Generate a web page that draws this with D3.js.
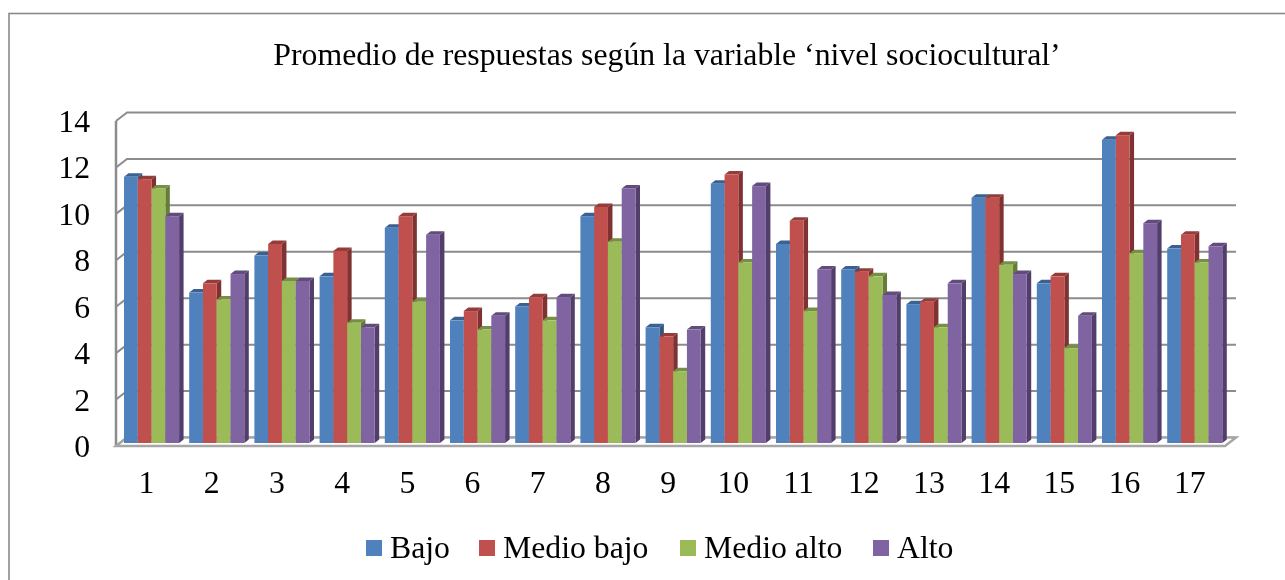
<!DOCTYPE html>
<html><head><meta charset="utf-8">
<script src="https://cdnjs.cloudflare.com/ajax/libs/d3/7.8.5/d3.min.js"></script>
<style>html,body{margin:0;padding:0;background:#fff;overflow:hidden}svg{display:block;filter:blur(0.35px)}text{font-family:"Liberation Serif",serif;fill:#000}</style>
</head><body><div id="chart"></div>
<script>
const title = "Promedio de respuestas según la variable ‘nivel sociocultural’";
const categories = ["1","2","3","4","5","6","7","8","9","10","11","12","13","14","15","16","17"];
const seriesNames = ["Bajo","Medio bajo","Medio alto","Alto"];
const bajo      = [11.5,6.5,8.1,7.2,9.3,5.3,5.9,9.8,5.0,11.2,8.6,7.5,6.0,10.6,6.9,13.1,8.4];
const medioBajo = [11.4,6.9,8.6,8.3,9.8,5.7,6.3,10.2,4.6,11.6,9.6,7.4,6.1,10.6,7.2,13.3,9.0];
const medioAlto = [11.0,6.2,7.0,5.2,6.1,4.9,5.3,8.7,3.1,7.8,5.7,7.2,5.0,7.7,4.1,8.2,7.8];
const alto      = [9.8,7.3,7.0,5.0,9.0,5.5,6.3,11.0,4.9,11.1,7.5,6.4,6.9,7.3,5.5,9.5,8.5];
const series = [bajo,medioBajo,medioAlto,alto];
const yTicks = [0,2,4,6,8,10,12,14];
const colors = ["#4f81bd","#c0504d","#9bbb59","#8064a2"];
const sideColors = ["#33557f","#7f3231","#667c3a","#523e6b"];
const topColors = ["#3a6191","#953c3a","#778f45","#614c7c"];

const W=1285,H=580,FS=31.75;
const svg=d3.select("#chart").append("svg").attr("width",W).attr("height",H);
svg.append("rect").attr("x",9).attr("y",13.5).attr("width",W+10).attr("height",H+10).attr("fill","#fff").attr("stroke","#8a8a8a").attr("stroke-width",1.6);

svg.append("text").attr("x",667).attr("y",65).attr("text-anchor","middle").attr("font-size",FS).text(title);

// 3D frame
const dx=11,dy=-8.5;
const yFront=d3.scaleLinear().domain([0,14]).range([446,121]);
const yBar=d3.scaleLinear().domain([0,14]).range([443,119]);
const xLeft=116,xRight=1225;
const gridCol="#8c8c8c";
const g=svg.append("g").attr("fill","none").attr("stroke",gridCol).attr("stroke-width",2);
g.selectAll("path.grid").data(yTicks).join("path").attr("class","grid")
  .attr("d",d=>`M${xLeft},${yFront(d)}L${xLeft+dx},${yFront(d)+dy}L${xRight+dx},${yFront(d)+dy}`);
g.append("path").attr("d",`M${xLeft},${yFront(14)}L${xLeft},${yFront(0)}`).attr("stroke-width",2.5);
svg.append("path").attr("d",`M${xLeft},${yFront(0)}L${xLeft+dx},${yFront(0)+dy}L${xRight+dx},${yFront(0)+dy}L${xRight},${yFront(0)}Z`)
  .attr("fill","#fff").attr("stroke","#a6a6a6").attr("stroke-width",2.5);

// bars
const x0=d3.scaleBand().domain(categories).range([116.5,1229.8]).paddingInner(0.155).paddingOuter(0.115);
const x1=d3.scaleBand().domain(seriesNames).range([0,x0.bandwidth()]);
const sd=4.5,st=3.5;
categories.forEach((c,i)=>{
  const gr=svg.append("g");
  seriesNames.forEach((s,j)=>{
    const v=series[j][i],x=x0(c)+x1(s),w=x1.bandwidth(),y=yBar(v),b=yBar(0);
    gr.append("path").attr("fill",sideColors[j]).attr("d",`M${x+w},${y}L${x+w+sd},${y-st}L${x+w+sd},${b-st}L${x+w},${b}Z`);
    gr.append("path").attr("fill",topColors[j]).attr("d",`M${x},${y}L${x+sd},${y-st}L${x+w+sd},${y-st}L${x+w},${y}Z`);
    gr.append("rect").attr("x",x).attr("y",y).attr("width",w).attr("height",b-y).attr("fill",colors[j]);
  });
});

// axis labels
svg.selectAll("text.yl").data(yTicks).join("text").attr("class","yl")
  .attr("x",90).attr("y",d=>yFront(d)+11).attr("text-anchor","end").attr("font-size",FS).text(d=>d);
svg.selectAll("text.xl").data(categories).join("text").attr("class","xl")
  .attr("x",d=>x0(d)+x0.bandwidth()/2-5).attr("y",493).attr("text-anchor","middle").attr("font-size",FS).text(d=>d);

// legend
const legX=[366,479,680,873];
const leg=svg.selectAll("g.leg").data(seriesNames).join("g").attr("class","leg").attr("transform",(d,i)=>`translate(${legX[i]},540)`);
leg.append("rect").attr("width",16).attr("height",16).attr("fill",(d,i)=>colors[i]);
leg.append("text").attr("x",24).attr("y",17.5).attr("font-size",FS).text(d=>d);
</script></body></html>
